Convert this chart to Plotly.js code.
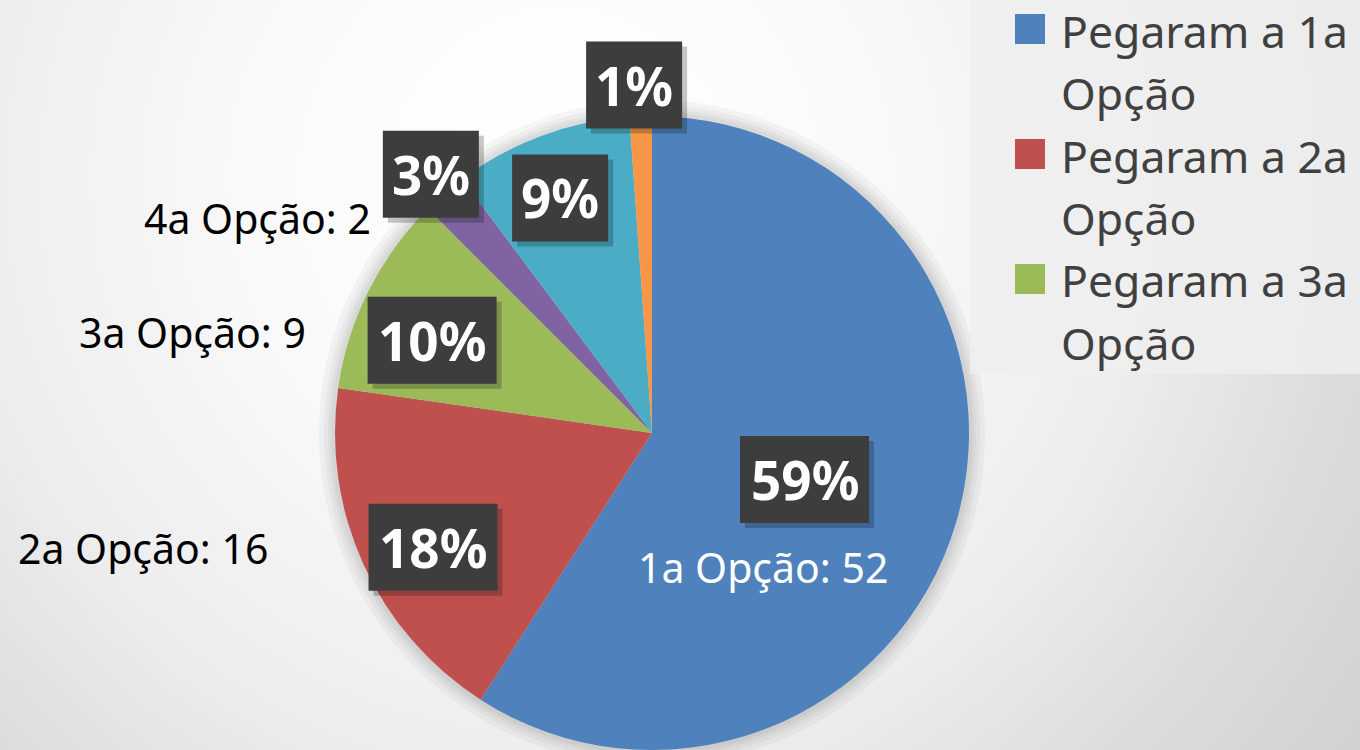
<!DOCTYPE html>
<html><head><meta charset="utf-8">
<script src="https://cdn.plot.ly/plotly-3.0.1.min.js"></script>
<style>
html,body{margin:0;padding:0;}
body{width:1360px;height:750px;overflow:hidden;
background:radial-gradient(circle farthest-corner at 560px 180px,#ffffff 0%,#fafafa 30%,#ededed 60%,#dcdcdc 81%,#d1d1d1 100%);}
#chart{width:1360px;height:750px;}
</style></head><body><div id="chart"></div>
<script>
// ---- data ----
const categories = ['1a Opção', '2a Opção', '3a Opção', '4a Opção', null, null];
const values = [52, 16, 9, 2, 8, 1];
const percentLabels = ['59%', '18%', '10%', '3%', '9%', '1%'];
const legendNames = ['Pegaram a 1a Opção', 'Pegaram a 2a Opção', 'Pegaram a 3a Opção'];

// ---- style ----
const colors = ['#4f81bd', '#c0504d', '#9bbb59', '#8064a2', '#4bacc6', '#f79646'];
const W = 1360, H = 750;
const domain = {x: [0.24632, 0.7125], y: [0, 0.84533]};
const pctAngleOffset = [0.6, -3.0, -3.7, 0.4, -0.9, -0.9];
const pctRadius = [0.503, 0.779, 0.753, 1.074, 0.796, 1.099];
const catAngleOffset = [34.0, 7.8, -10.2, -11.5];
const catRadius = [0.549, 1.258, 1.131, 1.111];
const catAnchor = ['center', 'right', 'right', 'right'];
const catColor = ['#ffffff', '#000000', '#000000', '#000000'];
const FONT = 'Noto Sans, Open Sans, sans-serif';

const cx = (domain.x[0] + domain.x[1]) / 2 * W;
const cy = (1 - (domain.y[0] + domain.y[1]) / 2) * H;
const R = Math.min((domain.x[1] - domain.x[0]) * W, (domain.y[1] - domain.y[0]) * H) / 2;

const total = values.reduce((a, b) => a + b, 0);
const mids = [];
let acc = 0;
values.forEach(v => { mids.push((acc + v / 2) / total * 360); acc += v; });

function polarPx(angDeg, f) {
  const a = angDeg * Math.PI / 180;
  return {x: cx + Math.sin(a) * f * R, y: cy - Math.cos(a) * f * R};
}

const annotations = [];
const shapes = [];
function rectPx(x0, y0, x1, y1, fill, layer) {
  shapes.push({type: 'rect', xref: 'paper', yref: 'paper', layer: layer || 'above',
    x0: x0 / W, x1: x1 / W, y0: 1 - y1 / H, y1: 1 - y0 / H, fillcolor: fill, line: {width: 0}});
}

// pie soft edge shadow
[16, 11, 7, 4].forEach(d => {
  shapes.push({type: 'circle', xref: 'paper', yref: 'paper', layer: 'below',
    x0: (cx - R - d) / W, x1: (cx + R + d) / W, y0: 1 - (cy + R + d) / H, y1: 1 - (cy - R - d) / H,
    fillcolor: 'rgba(0,0,0,0.035)', line: {width: 0}});
});

// category labels
categories.forEach((c, i) => {
  if (!c) return;
  const p = polarPx(mids[i] + catAngleOffset[i], catRadius[i]);
  annotations.push({xref: 'paper', yref: 'paper', x: p.x / W, y: 1 - p.y / H, showarrow: false,
    xanchor: catAnchor[i], yanchor: 'middle', text: c + ': ' + values[i],
    font: {family: FONT, size: 41, color: catColor[i]}});
});

// percentage boxes: shadow + box as shapes, text as annotation
percentLabels.forEach((t, i) => {
  const p = polarPx(mids[i] + pctAngleOffset[i], pctRadius[i]);
  const bw = t.length >= 3 ? 129 : 96, bh = 87;
  rectPx(p.x - bw / 2 + 5, p.y - bh / 2 + 5, p.x + bw / 2 + 5, p.y + bh / 2 + 5, 'rgba(0,0,0,0.22)');
  rectPx(p.x - bw / 2, p.y - bh / 2, p.x + bw / 2, p.y + bh / 2, '#3d3d3d');
  annotations.push({xref: 'paper', yref: 'paper', x: p.x / W, y: 1 - p.y / H, showarrow: false,
    xanchor: 'center', yanchor: 'middle', text: '<b>' + t + '</b>',
    font: {family: FONT, size: 53, color: '#ffffff'}});
});

// legend (manual)
rectPx(970, 0, W, 374, 'rgba(238,238,238,0.85)', 'below');
const legTop = 14, legPitch = 125, linePitch = 62.5, sq = 30, sqX = 1015, txtX = 1059;
legendNames.forEach((name, i) => {
  const top = legTop + i * legPitch;
  rectPx(sqX, top, sqX + sq, top + sq, colors[i]);
  const k = name.lastIndexOf(' ');
  const lines = [name.slice(0, k), name.slice(k + 1)];
  lines.forEach((ln, j) => {
    annotations.push({xref: 'paper', yref: 'paper', x: txtX / W, y: 1 - (top + 16 + j * linePitch) / H,
      showarrow: false, xanchor: 'left', yanchor: 'middle', text: ln,
      font: {family: FONT, size: 44.5, color: '#404040'}});
  });
});

const trace = {
  type: 'pie', values: values, labels: values.map((v, i) => 'slice' + i),
  domain: domain, sort: false, direction: 'clockwise', rotation: 0,
  textinfo: 'none', hoverinfo: 'skip', showlegend: false,
  marker: {colors: colors, line: {width: 0}}
};

Plotly.newPlot('chart', [trace], {
  width: W, height: H, margin: {l: 0, r: 0, t: 0, b: 0},
  paper_bgcolor: 'rgba(0,0,0,0)', plot_bgcolor: 'rgba(0,0,0,0)',
  showlegend: false, annotations: annotations, shapes: shapes
}, {staticPlot: true});
</script></body></html>
